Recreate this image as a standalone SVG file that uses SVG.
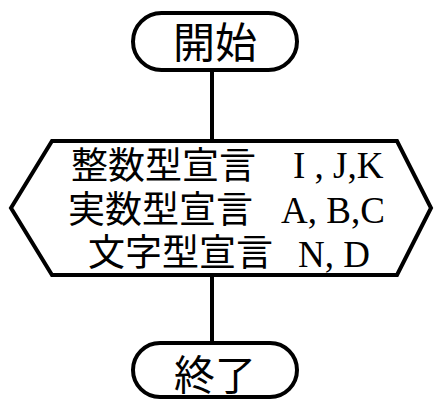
<svg xmlns="http://www.w3.org/2000/svg" width="438" height="399" viewBox="0 0 438 399">
<style>
.s{fill:#fff;stroke:#000;stroke-width:4}
.c{stroke:#000;stroke-width:4;fill:none}
.j{font-family:"Noto Sans CJK JP","Noto Sans",sans-serif;fill:#000}
.l{font-family:"Liberation Serif",serif;fill:#000;font-size:37px}
</style>
<g id="connectors">
<line class="c" x1="212" y1="70" x2="212" y2="141"/>
<line class="c" x1="212" y1="274" x2="212" y2="344"/>
</g>
<g id="start">
<rect class="s" x="133" y="13" width="164" height="57" rx="28.5" ry="28.5"/>
<text class="j" x="215" y="58" font-size="42" text-anchor="middle">開始</text>
</g>
<g id="decl">
<polygon class="s" points="52,141 397,141 431,208 397,275 52,275 11,208"/>
<text class="j" x="71" y="179" font-size="37">整数型宣言</text>
<text class="l" x="293" y="178" xml:space="preserve">I , J,K</text>
<text class="j" x="68" y="223" font-size="37">実数型宣言</text>
<text class="l" x="281" y="223">A, B,C</text>
<text class="j" x="88" y="266" font-size="37">文字型宣言</text>
<text class="l" x="298" y="267">N, D</text>
</g>
<g id="end">
<rect class="s" x="133" y="343" width="164" height="54" rx="27" ry="27"/>
<text class="j" x="215" y="390" font-size="41" text-anchor="middle">終了</text>
</g>
</svg>
